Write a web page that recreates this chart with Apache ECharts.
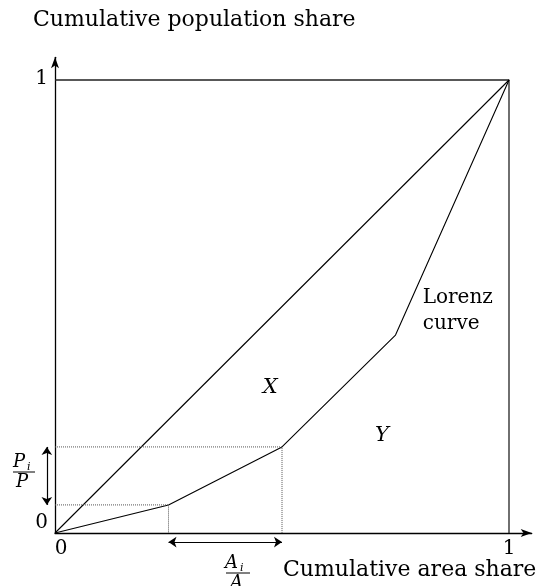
<!DOCTYPE html>
<html>
<head>
<meta charset="utf-8">
<script src="https://cdn.jsdelivr.net/npm/echarts@6/dist/echarts.min.js"></script>
<style>
	html, body { margin: 0; padding: 0; background: #fff; }
	#chart { width: 544px; height: 586px; }
</style>
</head>
<body>
<div id="chart"></div>
<script>
// Lorenz curve: cumulative area share vs cumulative population share
const areaShare = [0, 0.25, 0.5, 0.75, 1];
const popShare = [0, 0.062, 0.19, 0.437, 1];
const equality = [[0, 0], [1, 1]];
const tickLabels = ['0', '1'];
const axisTitleX = 'Cumulative area share';
const axisTitleY = 'Cumulative population share';

// highlighted segment i (between 1st and 2nd break points)
const segFrom = 1;
const segTo = 2;

const serif = '"DejaVu Serif", "Liberation Serif", serif';
const ink = '#000';

let lorenz = areaShare.map((x, i) => [x, popShare[i]]);
let xa = areaShare[segFrom], xb = areaShare[segTo];
let ya = popShare[segFrom], yb = popShare[segTo];

let chart = echarts.init(document.getElementById('chart'));

let option = {
	animation: false,
	backgroundColor: '#fff',
	grid: { left: 55, right: 12.3, top: 57.35, bottom: 53 },
	xAxis: {
		type: 'value', min: 0, max: 1.05, interval: 1,
		splitLine: { show: false },
		axisTick: { show: false },
		axisLine: { lineStyle: { color: ink, width: 1.3 }, symbol: ['none', 'arrow'], symbolSize: [6, 11] },
		axisLabel: {
			formatter: function(v) {
				if (v === 0) return '{zero|' + tickLabels[0] + '}';
				if (v === 1) return '{one|' + tickLabels[1] + '}';
				return '';
			},
			margin: 6, showMaxLabel: false,
			rich: {
				zero: { fontFamily: serif, fontSize: 20, color: ink, padding: [0, 0, 0, 12] },
				one: { fontFamily: serif, fontSize: 20, color: ink }
			}
		}
	},
	yAxis: {
		type: 'value', min: 0, max: 1.05, interval: 1,
		splitLine: { show: false },
		axisTick: { show: false },
		axisLine: { lineStyle: { color: ink, width: 1.3 }, symbol: ['none', 'arrow'], symbolSize: [6, 11] },
		axisLabel: {
			formatter: function(v) {
				if (v === 0) return '{lo|' + tickLabels[0] + '}';
				if (v === 1) return '{hi|' + tickLabels[1] + '}';
				return '';
			},
			margin: 7, showMaxLabel: false,
			rich: {
				lo: { fontFamily: serif, fontSize: 20, color: ink, padding: [0, 0, 20, 0] },
				hi: { fontFamily: serif, fontSize: 20, color: ink, padding: [0, 0, 2, 0] }
			}
		}
	},
	series: [
		{
			type: 'line', data: [[0, 1], [1, 1], [1, 0]], symbol: 'none',
			lineStyle: { color: '#222', width: 1.3 }
		},
		{
			type: 'line', data: equality, symbol: 'none',
			lineStyle: { color: ink, width: 1.1 }
		},
		{
			type: 'line', data: lorenz, symbol: 'none',
			lineStyle: { color: ink, width: 1.1 }
		},
		{
			type: 'line', data: [[0, ya], [xa, ya], [xa, 0]], symbol: 'none',
			lineStyle: { color: '#555', width: 1, type: 'dotted' }
		},
		{
			type: 'line', data: [[0, yb], [xb, yb], [xb, 0]], symbol: 'none',
			lineStyle: { color: '#555', width: 1, type: 'dotted' }
		},
		{
			type: 'lines', coordinateSystem: 'cartesian2d', clip: false,
			symbol: ['arrow', 'arrow'], symbolSize: 8,
			lineStyle: { color: ink, width: 1.2, opacity: 1 },
			data: [
				{ coords: [[-0.018, ya], [-0.018, yb]] },
				{ coords: [[xa, -0.02], [xb, -0.02]] }
			]
		},
		{
			type: 'scatter', symbolSize: 0, clip: false,
			itemStyle: { color: ink, opacity: 1 },
			label: {
				show: true, position: 'inside', color: ink, fontFamily: serif, fontSize: 21,
				formatter: p => p.data.name
			},
			data: [
				{ value: [0.474, 0.32], name: 'X', label: { fontStyle: 'italic', color: ink } },
				{ value: [0.72, 0.215], name: 'Y', label: { fontStyle: 'italic', color: ink } },
				{ value: [0.81, 0.49], name: 'Lorenz\ncurve', label: { align: 'left', lineHeight: 26, fontSize: 20, color: ink } }
			]
		}
	],
	graphic: [
		{ type: 'text', left: 33, top: 9, style: { text: axisTitleY, fill: ink, font: '22px ' + serif } },
		{ type: 'text', left: 283, top: 559, style: { text: axisTitleX, fill: ink, font: '22px ' + serif } },
		// P_i / P
		{ type: 'text', x: 13, y: 453, style: { text: 'P', fill: ink, font: 'italic 18px ' + serif } },
		{ type: 'text', x: 27, y: 462, style: { text: 'i', fill: ink, font: 'italic 11px ' + serif } },
		{ type: 'line', shape: { x1: 13, y1: 472, x2: 35, y2: 472 }, style: { stroke: ink, lineWidth: 1 } },
		{ type: 'text', x: 16, y: 473, style: { text: 'P', fill: ink, font: 'italic 18px ' + serif } },
		// A_i / A
		{ type: 'text', x: 225, y: 554, style: { text: 'A', fill: ink, font: 'italic 18px ' + serif } },
		{ type: 'text', x: 240, y: 563, style: { text: 'i', fill: ink, font: 'italic 11px ' + serif } },
		{ type: 'line', shape: { x1: 226, y1: 573, x2: 250, y2: 573 }, style: { stroke: ink, lineWidth: 1 } },
		{ type: 'text', x: 230, y: 574, style: { text: 'A', fill: ink, font: 'italic 18px ' + serif } }
	]
};

chart.setOption(option);
</script>
</body>
</html>
